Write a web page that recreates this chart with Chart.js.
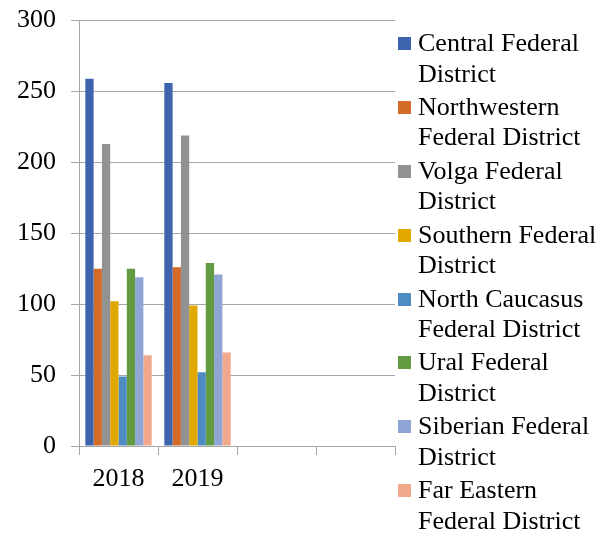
<!DOCTYPE html>
<html>
<head>
<meta charset="utf-8">
<script src="https://cdn.jsdelivr.net/npm/chart.js@4/dist/chart.umd.min.js"></script>
<style>
  body { margin: 0; background: #fff; width: 609px; height: 534px; overflow: hidden; position: relative; font-family: "Liberation Serif", "Times New Roman", serif; }
  #wrap { position: absolute; left: 0; top: -10px; width: 400px; height: 544px; }
  #legend { position: absolute; left: 398px; top: 28px; width: 211px; }
  .item { position: relative; padding-left: 20px; font-size: 26px; line-height: 30.5px; height: 61px; margin-bottom: 2.9px; color: #000; }
  .item .box { position: absolute; left: 0; top: 9px; width: 13px; height: 13px; }
</style>
</head>
<body>
<div id="wrap"><canvas id="chart"></canvas></div>
<div id="legend"></div>
<script>
// datos
var years = ['2018', '2019', '', ''];
var districts = ['Central Federal District', 'Northwestern Federal District', 'Volga Federal District',
  'Southern Federal District', 'North Caucasus Federal District', 'Ural Federal District',
  'Siberian Federal District', 'Far Eastern Federal District'];
var central = [259, 256];
var northwestern = [125, 126];
var volga = [213, 219];
var southern = [102, 99];
var northCaucasus = [49, 52];
var ural = [125, 129];
var siberian = [119, 121];
var farEastern = [64, 66];
var yTicks = [0, 50, 100, 150, 200, 250, 300];

var colors = ['#3E64AD', '#D46B29', '#929292', '#E1A900', '#4D8BC0', '#629B41', '#8FA5D6', '#F1A88B'];
var series = [central, northwestern, volga, southern, northCaucasus, ural, siberian, farEastern];

var datasets = series.map(function (vals, i) {
  return { label: districts[i], data: vals, backgroundColor: colors[i], borderWidth: 0 };
});

var gridColor = '#a6a6a6';
var ctx = document.getElementById('chart').getContext('2d');
var chart = new Chart(ctx, {
  type: 'bar',
  data: { labels: years, datasets: datasets },
  options: {
    responsive: true,
    maintainAspectRatio: false,
    animation: false,
    layout: { padding: { top: 8, right: 5, left: 0, bottom: 0 } },
    plugins: { legend: { display: false }, tooltip: { enabled: false } },
    datasets: { bar: { categoryPercentage: 0.84, barPercentage: 1 } },
    scales: {
      x: {
        grid: { offset: true, drawOnChartArea: false, color: gridColor, tickLength: 9 },
        border: { color: gridColor },
        ticks: { color: '#000', font: { family: 'Liberation Serif', size: 26 }, padding: 9, maxRotation: 0 },
        afterFit: function (s) { s.height = 88; }
      },
      y: {
        min: 0, max: 300,
        afterBuildTicks: function (s) { s.ticks = yTicks.map(function (v) { return { value: v }; }); },
        grid: { color: gridColor, tickLength: 8 },
        border: { color: gridColor },
        ticks: { color: '#000', font: { family: 'Liberation Serif', size: 26 }, padding: 15 },
        afterFit: function (s) { s.width = 79; }
      }
    }
  }
});

// leyenda en HTML para que el texto se parta en dos líneas
var legend = document.getElementById('legend');
districts.forEach(function (name, i) {
  var div = document.createElement('div');
  div.className = 'item';
  div.innerHTML = '<span class="box" style="background:' + colors[i] + '"></span>' + name;
  legend.appendChild(div);
});
</script>
</body>
</html>
